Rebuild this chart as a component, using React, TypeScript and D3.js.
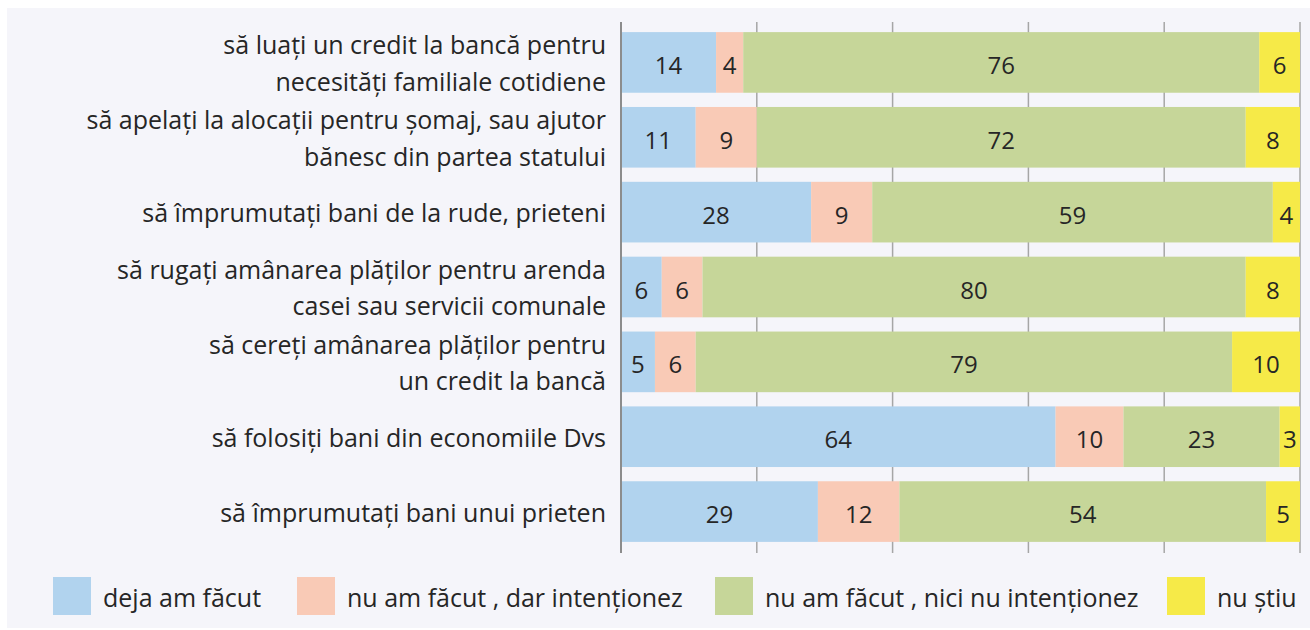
import React from "react";
import * as d3 from "d3";

const categories: string[][] = [
  ["să luați un credit la bancă pentru", "necesități familiale cotidiene"],
  ["să apelați la alocații pentru șomaj, sau ajutor", "bănesc din partea statului"],
  ["să împrumutați bani de la rude, prieteni"],
  ["să rugați amânarea plăților pentru arenda", "casei sau servicii comunale"],
  ["să cereți amânarea plăților pentru", "un credit la bancă"],
  ["să folosiți bani din economiile Dvs"],
  ["să împrumutați bani unui prieten"],
];

const seriesNames = [
  "deja am făcut",
  "nu am făcut , dar intenționez",
  "nu am făcut , nici nu intenționez",
  "nu știu",
];

const dejaAmFacut = [14, 11, 28, 6, 5, 64, 29];
const darIntentionez = [4, 9, 9, 6, 6, 10, 12];
const niciNuIntentionez = [76, 72, 59, 80, 79, 23, 54];
const nuStiu = [6, 8, 4, 8, 10, 3, 5];

const xTicks = [0, 20, 40, 60, 80, 100];

const colors = ["#b1d3ee", "#f9cab6", "#c6d699", "#f6ea48"];
const legendX = [53, 297, 715, 1167];

const W = 1310;
const H = 630;
const FONT = "'Open Sans', sans-serif";
const TEXT = "#262626";

export default function App() {
  const series = [dejaAmFacut, darIntentionez, niciNuIntentionez, nuStiu];
  const rows = categories.map((c, i) => {
    const obj: any = { key: i };
    seriesNames.forEach((s, j) => (obj[s] = series[j][i]));
    return obj;
  });
  const stack = d3.stack<any>().keys(seriesNames)(rows);

  const x = d3.scaleLinear().domain([0, 100]).range([621, 1300]);
  const y = d3
    .scaleBand<number>()
    .domain(categories.map((_, i) => i))
    .range([25, 549])
    .paddingInner(0.19)
    .paddingOuter(0.095);

  const fs = 25;
  const nfs = 24;
  const lineH = 36.5;

  return (
    <div style={{ position: "absolute", left: 0, top: 0, width: W, height: H }}>
      <svg width={W} height={H} style={{ display: "block" }}>
        <rect x={7} y={8} width={W - 7} height={H - 10} fill="#f5f5fa" />
        {xTicks.slice(1).map((t) => (
          <line
            key={t}
            x1={x(t)}
            x2={x(t)}
            y1={22}
            y2={553}
            stroke="#a6a6a6"
            strokeWidth={1.5}
          />
        ))}
        {stack.map((layer, si) =>
          layer.map((d, i) => (
            <rect
              key={si + "-" + i}
              x={x(d[0])}
              y={y(i)!}
              width={x(d[1]) - x(d[0])}
              height={y.bandwidth()}
              fill={colors[si]}
            />
          ))
        )}
        {stack.map((layer, si) =>
          layer.map((d, i) => (
            <text
              key={"t" + si + "-" + i}
              x={(x(d[0]) + x(d[1])) / 2}
              y={y(i)! + y.bandwidth() / 2 + 11.5}
              textAnchor="middle"
              fontFamily={FONT}
              fontSize={nfs}
              fill={TEXT}
            >
              {series[si][i]}
            </text>
          ))
        )}
        <line x1={x(0)} x2={x(0)} y1={22} y2={553} stroke="#8c8c8c" strokeWidth={2} />
        {categories.map((lines, i) => {
          const cy = y(i)! + y.bandwidth() / 2;
          return (
            <text
              key={"c" + i}
              textAnchor="end"
              fontFamily={FONT}
              fontSize={fs}
              fill={TEXT}
            >
              {lines.map((ln, k) => (
                <tspan
                  key={k}
                  x={606}
                  y={cy + 10 + (k - (lines.length - 1) / 2) * lineH}
                >
                  {ln}
                </tspan>
              ))}
            </text>
          );
        })}
        {seriesNames.map((s, i) => (
          <g key={"l" + i}>
            <rect x={legendX[i]} y={577} width={38} height={38} fill={colors[i]} />
            <text
              x={legendX[i] + 50}
              y={607}
              fontFamily={FONT}
              fontSize={fs}
              fill={TEXT}
            >
              {s}
            </text>
          </g>
        ))}
      </svg>
    </div>
  );
}
